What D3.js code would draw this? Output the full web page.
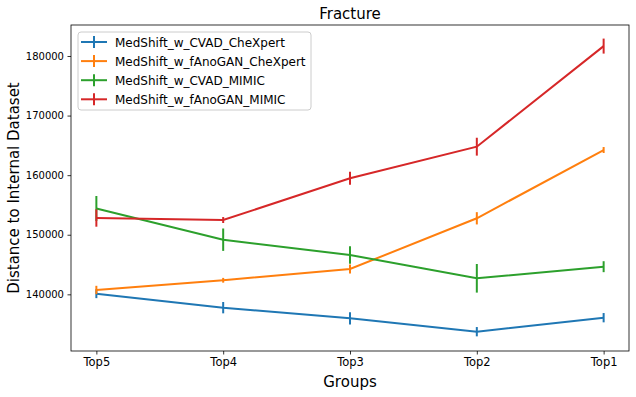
<!DOCTYPE html>
<html>
<head>
<meta charset="utf-8">
<script src="https://cdn.jsdelivr.net/npm/d3@7"></script>
<style>
  body { margin: 0; background: #fff; }
  text { font-family: "DejaVu Sans", sans-serif; fill: #000; }
</style>
</head>
<body>
<div id="chart"></div>
<script>
// data
const groups = ['Top5', 'Top4', 'Top3', 'Top2', 'Top1'];
const seriesNames = ['MedShift_w_CVAD_CheXpert', 'MedShift_w_fAnoGAN_CheXpert', 'MedShift_w_CVAD_MIMIC', 'MedShift_w_fAnoGAN_MIMIC'];
const cvadChexpert = [140110, 137760, 135980, 133730, 136080];
const cvadChexpertErr = [750, 950, 1030, 780, 780];
const fanoChexpert = [140730, 142360, 144250, 152760, 164220];
const fanoChexpertErr = [700, 400, 750, 1030, 500];
const cvadMimic = [154400, 149170, 146600, 142690, 144640];
const cvadMimicErr = [2100, 1880, 1450, 2400, 920];
const fanoMimic = [152810, 152470, 159470, 164780, 181660];
const fanoMimicErr = [1460, 500, 1100, 1500, 1260];
const yTicks = [140000, 150000, 160000, 170000, 180000];
const colors = ['#1f77b4', '#ff7f0e', '#2ca02c', '#d62728'];

const series = [
  { name: seriesNames[0], values: cvadChexpert, errs: cvadChexpertErr },
  { name: seriesNames[1], values: fanoChexpert, errs: fanoChexpertErr },
  { name: seriesNames[2], values: cvadMimic, errs: cvadMimicErr },
  { name: seriesNames[3], values: fanoMimic, errs: fanoMimicErr },
];

const width = 636, height = 397;
const margin = { top: 25, right: 7, bottom: 46, left: 71 };
const iw = width - margin.left - margin.right;
const ih = height - margin.top - margin.bottom;

const svg = d3.select('#chart').append('svg')
  .attr('width', width).attr('height', height);
const g = svg.append('g').attr('transform', `translate(${margin.left},${margin.top})`);

const x = d3.scaleLinear().domain([-0.2, groups.length - 1 + 0.2]).range([0, iw]);
const y = d3.scaleLinear().domain([130490, 185200]).range([ih, 0]);

// axes
const xAxis = g.append('g').attr('transform', `translate(0,${ih})`)
  .call(d3.axisBottom(x).tickValues(d3.range(groups.length)).tickFormat(i => groups[i]).tickSizeOuter(0).tickSize(3.5).tickPadding(3.5));
const yAxis = g.append('g')
  .call(d3.axisLeft(y).tickValues(yTicks).tickFormat(d3.format('d')).tickSizeOuter(0).tickSize(3.5).tickPadding(3.5));
xAxis.selectAll('text').style('font-size', '11.5px');
yAxis.selectAll('text').style('font-size', '10px');
[xAxis, yAxis].forEach(a => {
  a.selectAll('text').attr('fill', '#000').style('font-family', '"DejaVu Sans", sans-serif');
  a.selectAll('line').attr('stroke', '#000').attr('stroke-width', 0.8);
  a.select('.domain').remove();
});

// lines + error bars
const line = d3.line().x((d, i) => x(i)).y(d => y(d));
series.forEach((s, k) => {
  g.append('path').datum(s.values)
    .attr('d', line).attr('fill', 'none')
    .attr('stroke', colors[k]).attr('stroke-width', 2);
  g.selectAll(null).data(s.values).enter().append('line')
    .attr('x1', (d, i) => x(i)).attr('x2', (d, i) => x(i))
    .attr('y1', (d, i) => y(d - s.errs[i])).attr('y2', (d, i) => y(d + s.errs[i]))
    .attr('stroke', colors[k]).attr('stroke-width', 2);
});

// frame
g.append('rect').attr('width', iw).attr('height', ih)
  .attr('fill', 'none').attr('stroke', '#000').attr('stroke-width', 0.8);

// title and axis labels
svg.append('text').attr('x', margin.left + iw / 2).attr('y', 19)
  .attr('text-anchor', 'middle').style('font-size', '15px').text('Fracture');
svg.append('text').attr('x', margin.left + iw / 2).attr('y', 387)
  .attr('text-anchor', 'middle').style('font-size', '15px').text('Groups');
svg.append('text')
  .attr('transform', `translate(19,${margin.top + ih / 2}) rotate(-90)`)
  .attr('text-anchor', 'middle').style('font-size', '15px').text('Distance to Internal Dataset');

// legend
const lg = svg.append('g').attr('transform', 'translate(78,32)');
lg.append('rect').attr('width', 233).attr('height', 78).attr('rx', 3)
  .attr('fill', '#fff').attr('fill-opacity', 0.8).attr('stroke', '#ccc').attr('stroke-width', 1);
series.forEach((s, k) => {
  const row = lg.append('g').attr('transform', `translate(0,${10 + k * 19.1})`);
  row.append('line').attr('x1', 3).attr('x2', 29).attr('y1', 0).attr('y2', 0)
    .attr('stroke', colors[k]).attr('stroke-width', 2);
  row.append('line').attr('x1', 16).attr('x2', 16).attr('y1', -6).attr('y2', 6)
    .attr('stroke', colors[k]).attr('stroke-width', 2);
  row.append('text').attr('x', 37).attr('y', 4.5).style('font-size', '12px').text(s.name);
});
</script>
</body>
</html>
